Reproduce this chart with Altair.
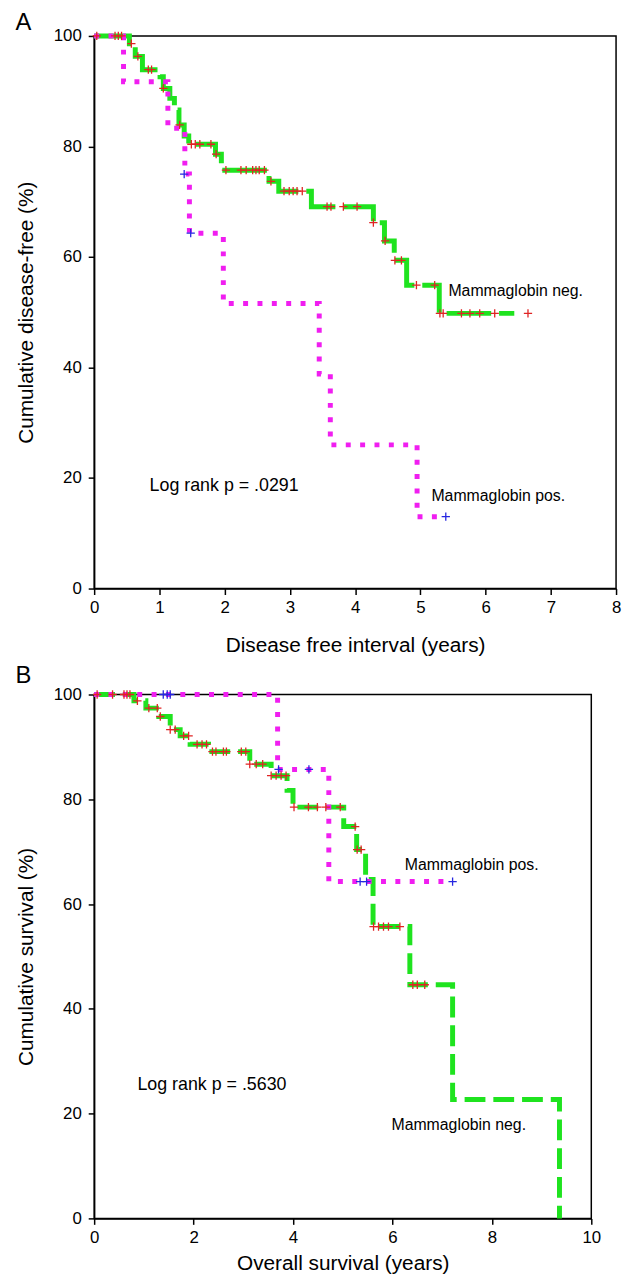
import altair as alt
import pandas as pd

# ---------------- Panel A: disease-free interval ----------------
A_NEG_T = [0, 0.54, 0.63, 0.74, 1.01, 1.06, 1.16, 1.23, 1.30, 1.38, 1.45, 1.86, 1.95,
           2.68, 2.83, 3.33, 4.28, 4.45, 4.60, 4.79, 5.29, 6.44]
A_NEG_S = [100, 98.6, 96.3, 93.9, 92.6, 90.5, 88.7, 86.6, 83.9, 81.9, 80.4, 78.6, 75.7,
           73.7, 71.9, 69.1, 66.2, 62.9, 59.4, 54.9, 49.8, 49.8]
A_NEG_CT = [0.04, 0.32, 0.37, 0.42, 0.57, 0.67, 0.83, 0.88, 1.06, 1.31, 1.49, 1.55, 1.62, 1.79,
            1.87, 2.02, 2.25, 2.33, 2.43, 2.48, 2.53, 2.61, 2.71, 2.91, 2.99, 3.05, 3.11, 3.19,
            3.57, 3.63, 3.82, 4.03, 4.28, 4.46, 4.61, 4.71, 4.94, 5.22, 5.30, 5.35, 5.63, 5.76,
            5.91, 6.14, 6.65]
A_NEG_CS = [100, 100, 100, 100, 98.6, 96.3, 93.9, 93.9, 90.5, 83.9, 80.4, 80.4, 80.4, 80.4,
            78.6, 75.7, 75.7, 75.7, 75.7, 75.7, 75.7, 75.7, 73.7, 71.9, 71.9, 71.9, 71.9, 71.9,
            69.1, 69.1, 69.1, 69.1, 66.2, 62.9, 59.4, 59.4, 54.9, 54.9, 49.8, 49.8, 49.8, 49.8,
            49.8, 49.8, 49.8]
A_POS_T = [0, 0.45, 1.13, 1.39, 1.46, 1.98, 3.45, 3.62, 4.95, 5.39]
A_POS_S = [100, 91.7, 83.3, 75.0, 64.3, 51.6, 38.8, 26.0, 13.0, 13.0]
A_POS_CT = [1.38, 1.48, 5.39]
A_POS_CS = [75.0, 64.3, 13.0]
A_LABEL_T = [5.43, 5.17, 0.85]
A_LABEL_S = [53.8, 16.7, 18.5]
A_LABEL_TXT = ["Mammaglobin neg.", "Mammaglobin pos.", "Log rank p = .0291"]
A_LABEL_FS = [16, 16, 18]
A_XTICKS = [0, 1, 2, 3, 4, 5, 6, 7, 8]

# ---------------- Panel B: overall survival ----------------
B_NEG_T = [0, 0.80, 1.04, 1.30, 1.53, 1.73, 1.93, 2.30, 3.13, 3.56, 3.88, 4.00, 5.02, 5.28,
           5.46, 5.61, 6.35, 7.21, 9.36]
B_NEG_S = [100, 98.8, 97.4, 95.8, 93.3, 92.1, 90.5, 89.1, 86.7, 84.5, 81.7, 78.5, 74.8, 70.4,
           64.7, 55.7, 44.6, 22.7, 0]
B_NEG_CT = [0.06, 0.37, 0.60, 0.66, 0.72, 0.87, 1.10, 1.27, 1.33, 1.53, 1.63, 1.80, 1.90, 2.07,
            2.17, 2.26, 2.38, 2.45, 2.60, 2.66, 2.96, 3.05, 3.13, 3.26, 3.39, 3.56, 3.66, 3.76,
            3.86, 4.02, 4.31, 4.49, 4.66, 4.95, 5.25, 5.29, 5.37, 5.62, 5.72, 5.82, 5.92, 6.15,
            6.41, 6.50, 6.65]
B_NEG_CS = [100, 100, 100, 100, 100, 98.8, 97.4, 97.4, 95.8, 93.3, 93.3, 92.1, 92.1, 90.5,
            90.5, 90.5, 89.1, 89.1, 89.1, 89.1, 89.1, 89.1, 86.7, 86.7, 86.7, 84.5, 84.5, 84.5,
            84.5, 78.5, 78.5, 78.5, 78.5, 78.5, 74.8, 70.4, 70.4, 55.7, 55.7, 55.7, 55.7, 55.7,
            44.6, 44.6, 44.6]
B_POS_T = [0, 3.69, 4.72, 7.21]
B_POS_S = [100, 85.7, 64.3, 64.3]
B_POS_CT = [1.39, 1.47, 1.53, 3.71, 4.32, 5.35, 5.48, 7.21]
B_POS_CS = [100, 100, 100, 85.7, 85.7, 64.3, 64.3, 64.3]
B_LABEL_T = [6.25, 5.98, 0.87]
B_LABEL_S = [67.4, 17.9, 25.5]
B_LABEL_TXT = ["Mammaglobin pos.", "Mammaglobin neg.", "Log rank p = .5630"]
B_LABEL_FS = [16, 16, 18]
B_XTICKS = [0, 2, 4, 6, 8, 10]

Y_TICKS = [0, 20, 40, 60, 80, 100]

GREEN = "#1fe31f"
PINK = "#f01ef0"
RED = "#e02424"
BLUE = "#2626e0"
FONT = "Liberation Sans"
PLUS = "M-1,0L1,0M0,-1L0,1"


def curve_df(t, s):
    return pd.DataFrame({"t": t, "s": s, "o": list(range(len(t)))})


def make_panel(neg_t, neg_s, pos_t, pos_s, negc_t, negc_s, posc_t, posc_s,
               lab_t, lab_s, lab_txt, lab_fs, xmax, xticks, xtitle, ytitle,
               w, h, letter, title_offset, neg_dash, x_title_pad):
    xaxis = alt.Axis(values=xticks, format="d", title=xtitle, grid=False,
                     domainColor="black", domainWidth=1.5, tickColor="black",
                     tickWidth=1.5, tickSize=6, labelFont=FONT, labelFontSize=17,
                     labelColor="black", labelPadding=5, labelFlush=False,
                     titleFont=FONT, titleFontSize=21, titleFontWeight="normal",
                     titleColor="black", titlePadding=x_title_pad)
    yaxis = alt.Axis(values=Y_TICKS, format="d", title=ytitle, grid=False,
                     domainColor="black", domainWidth=1.5, tickColor="black",
                     tickWidth=1.5, tickSize=6, labelFont=FONT, labelFontSize=17,
                     labelColor="black", labelPadding=7,
                     titleFont=FONT, titleFontSize=21, titleFontWeight="normal",
                     titleColor="black", titlePadding=17)
    x = alt.X("t:Q", scale=alt.Scale(domain=[0, xmax], nice=False, zero=False), axis=xaxis)
    y = alt.Y("s:Q", scale=alt.Scale(domain=[0, 100], nice=False), axis=yaxis)

    neg_line = alt.Chart(curve_df(neg_t, neg_s)).mark_line(
        interpolate="step-after", color=GREEN, strokeWidth=5, strokeDash=neg_dash,
        strokeCap="butt", strokeJoin="miter"
    ).encode(x=x, y=y, order="o:Q")
    pos_line = alt.Chart(curve_df(pos_t, pos_s)).mark_line(
        interpolate="step-after", color=PINK, strokeWidth=5, strokeDash=[5, 9.5],
        strokeCap="butt", strokeJoin="miter"
    ).encode(x=x, y=y, order="o:Q")
    neg_cens = alt.Chart(curve_df(negc_t, negc_s)).mark_point(
        shape=PLUS, size=70, color=RED, strokeWidth=1.3, filled=False, opacity=1
    ).encode(x=x, y=y)
    pos_cens = alt.Chart(curve_df(posc_t, posc_s)).mark_point(
        shape=PLUS, size=70, color=BLUE, strokeWidth=1.3, filled=False, opacity=1
    ).encode(x=x, y=y)
    lab_df = pd.DataFrame({"t": lab_t, "s": lab_s, "label": lab_txt, "fs": lab_fs})
    texts = alt.Chart(lab_df).mark_text(
        align="left", baseline="middle", font=FONT, color="black"
    ).encode(x=x, y=y, text="label:N", size=alt.Size("fs:Q", scale=None))

    return alt.layer(neg_line, pos_line, neg_cens, pos_cens, texts).properties(
        width=w, height=h,
        title=alt.TitleParams(letter, anchor="start", fontSize=24, font=FONT,
                              fontWeight="normal", color="black", offset=title_offset),
    )


panel_a = make_panel(A_NEG_T, A_NEG_S, A_POS_T, A_POS_S, A_NEG_CT, A_NEG_CS,
                     A_POS_CT, A_POS_CS, A_LABEL_T, A_LABEL_S, A_LABEL_TXT, A_LABEL_FS,
                     8, A_XTICKS, "Disease free interval (years)",
                     "Cumulative disease-free (%)", 527, 558, "A", -9, [45, 8], 20)
panel_b = make_panel(B_NEG_T, B_NEG_S, B_POS_T, B_POS_S, B_NEG_CT, B_NEG_CS,
                     B_POS_CT, B_POS_CS, B_LABEL_T, B_LABEL_S, B_LABEL_TXT, B_LABEL_FS,
                     10, B_XTICKS, "Overall survival (years)",
                     "Cumulative survival (%)", 502, 529, "B", -3, [21, 8], 8)

chart = alt.vconcat(panel_a, panel_b, spacing=6).properties(
    padding={"left": 6, "top": -4, "right": 0, "bottom": 0}
).configure_view(stroke="black", strokeWidth=1.5)

chart.save("out.html", embed_options={"renderer": "svg", "actions": False})
